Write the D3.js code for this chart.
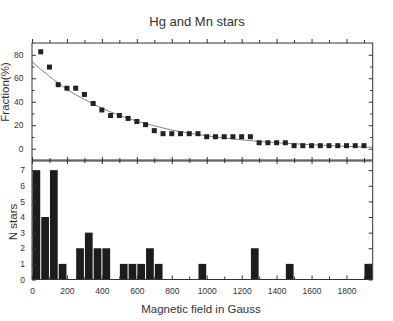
<!DOCTYPE html>
<html lang="en">
<head>
<meta charset="utf-8">
<script src="https://cdnjs.cloudflare.com/ajax/libs/d3/7.8.5/d3.min.js"></script>
<style>
  body { margin: 0; background: #fff; }
  text { font-family: "Liberation Sans", Arial, sans-serif; fill: #333; }
</style>
</head>
<body>
<script>
// histogram of stars per 50 G bin
var binStart = [0, 50, 100, 150, 250, 300, 350, 400, 500, 550, 600, 650, 700, 950, 1250, 1450, 1900];
var nStars = [7, 4, 7, 1, 2, 3, 2, 2, 1, 1, 1, 2, 1, 1, 2, 1, 1];
var binWidth = 50;

// fraction of stars above a given field (%)
var fracField = [50, 100, 150, 200, 250, 300, 350, 400, 450, 500, 550, 600, 650, 700, 750, 800, 850, 900, 950,
                 1000, 1050, 1100, 1150, 1200, 1250, 1300, 1350, 1400, 1450,
                 1500, 1550, 1600, 1650, 1700, 1750, 1800, 1850, 1900];
var fracValue = [82.5, 69.5, 54.5, 51.5, 51.5, 46.2, 38.5, 33, 28.3, 28.3, 25.8, 23.2, 20.5, 15.4, 12.8, 12.8, 12.8, 12.8, 12.8,
                 10.2, 10.2, 10.2, 10.2, 10.2, 10.2, 5.1, 5.1, 5.1, 5.1,
                 2.6, 2.6, 2.6, 2.6, 2.6, 2.6, 2.6, 2.6, 2.6];

// fitted curve
var fitField = [0, 100, 200, 300, 400, 500, 600, 700, 800, 900, 1000, 1100, 1200, 1300, 1400, 1500, 1600, 1700, 1800, 1950];
var fitValue = [74, 61.5, 50.5, 42, 34.5, 28.5, 23.5, 19.5, 16, 13.2, 11, 9.2, 7.6, 6.2, 5.1, 4.2, 3.4, 2.7, 2.1, 1.2];

var xTicks = [0, 200, 400, 600, 800, 1000, 1200, 1400, 1600, 1800];
var fracTicks = [0, 20, 40, 60, 80];
var nTicks = [0, 1, 2, 3, 4, 5, 6, 7];

var w = 393, h = 321;
var left = 32, right = 372.7;
var topY = 43, midY = 160, botY = 279.5;
var ink = "#222";

var svg = d3.select("body").append("svg").attr("width", w).attr("height", h);

var x = d3.scaleLinear().domain([0, 1950]).range([left, right]);
var yF = d3.scaleLinear().domain([-9.6, 90]).range([midY, topY]);
var yN = d3.scaleLinear().domain([0, 7.65]).range([botY, midY]);

// bars
svg.selectAll("rect.bar")
    .data(binStart)
    .enter()
    .append("rect")
    .attr("class", "bar")
    .attr("x", d => x(d) + 0.5)
    .attr("width", d => x(d + binWidth) - x(d) - 1)
    .attr("y", (d, i) => yN(nStars[i]))
    .attr("height", (d, i) => yN(0) - yN(nStars[i]))
    .attr("fill", "#1c1c1c");

// fit curve
var line = d3.line()
    .x((d, i) => x(fitField[i]))
    .y(d => yF(d))
    .curve(d3.curveMonotoneX);
svg.append("path")
    .attr("d", line(fitValue))
    .attr("fill", "none")
    .attr("stroke", "#666")
    .attr("stroke-width", 0.8);

// squares
svg.selectAll("rect.pt")
    .data(fracField)
    .enter()
    .append("rect")
    .attr("class", "pt")
    .attr("x", d => x(d) - 2.5)
    .attr("y", (d, i) => yF(fracValue[i]) - 2.5)
    .attr("width", 5)
    .attr("height", 5)
    .attr("fill", ink);

// axes: ticks all pointing inside the frames
function addAxis(axis, tx, ty) {
    var g = svg.append("g").attr("transform", "translate(" + tx + "," + ty + ")").call(axis);
    g.select(".domain").remove();
    g.selectAll("line").attr("stroke", "#333");
    g.selectAll("text").attr("font-size", "8.5px").attr("fill", "#444")
        .attr("font-family", "Liberation Sans, Arial, sans-serif");
    return g;
}
var minorX = d3.range(100, 1950, 200);
var fmt = d3.format("d");

// upper panel
addAxis(d3.axisBottom(x).tickValues(xTicks).tickSize(-4).tickFormat(""), 0, topY);
addAxis(d3.axisBottom(x).tickValues(minorX).tickSize(-3).tickFormat(""), 0, topY);
addAxis(d3.axisTop(x).tickValues(xTicks).tickSize(-4).tickFormat(""), 0, midY);
addAxis(d3.axisTop(x).tickValues(minorX).tickSize(-3).tickFormat(""), 0, midY);
addAxis(d3.axisLeft(yF).tickValues(fracTicks).tickSize(-4).tickPadding(8.5).tickFormat(fmt), left, 0);
addAxis(d3.axisLeft(yF).tickValues([10, 30, 50, 70]).tickSize(-2.5).tickFormat(""), left, 0);
addAxis(d3.axisRight(yF).tickValues(fracTicks).tickSize(-4).tickFormat(""), right, 0);
addAxis(d3.axisRight(yF).tickValues([10, 30, 50, 70]).tickSize(-2.5).tickFormat(""), right, 0);

// lower panel
addAxis(d3.axisBottom(x).tickValues(xTicks).tickSize(-4).tickFormat(""), 0, midY + 1);
addAxis(d3.axisBottom(x).tickValues(minorX).tickSize(-3).tickFormat(""), 0, midY + 1);
addAxis(d3.axisBottom(x).tickValues(xTicks).tickSize(-4).tickPadding(8).tickFormat(fmt), 0, botY);
addAxis(d3.axisBottom(x).tickValues(minorX).tickSize(-3).tickFormat(""), 0, botY);
addAxis(d3.axisLeft(yN).tickValues(nTicks).tickSize(-4).tickPadding(7).tickFormat(fmt), left, 0);
addAxis(d3.axisRight(yN).tickValues(nTicks).tickSize(-4).tickFormat(""), right, 0);

// frames
svg.append("rect").attr("x", left).attr("y", topY).attr("width", right - left).attr("height", midY - topY)
    .attr("fill", "none").attr("stroke", "#333").attr("stroke-width", 1);
svg.append("rect").attr("x", left).attr("y", midY + 1).attr("width", right - left).attr("height", botY - midY - 1)
    .attr("fill", "none").attr("stroke", "#333").attr("stroke-width", 1);

// titles
svg.append("text").attr("x", 197).attr("y", 26).attr("text-anchor", "middle")
    .attr("font-size", "13px").text("Hg and Mn stars");
svg.append("text").attr("x", 201).attr("y", 313).attr("text-anchor", "middle")
    .attr("font-size", "11.5px").text("Magnetic field in Gauss");
svg.append("text").attr("transform", "translate(9,92) rotate(-90)").attr("text-anchor", "middle")
    .attr("font-size", "11.5px").text("Fraction(%)");
svg.append("text").attr("transform", "translate(17,222) rotate(-90)").attr("text-anchor", "middle")
    .attr("font-size", "11.5px").text("N stars");
</script>
</body>
</html>
